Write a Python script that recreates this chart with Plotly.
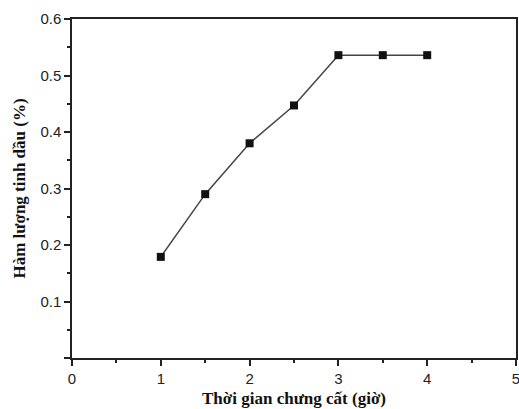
import plotly.graph_objects as go

hours = [1, 1.5, 2, 2.5, 3, 3.5, 4]
oil_content = [0.179, 0.290, 0.380, 0.447, 0.536, 0.536, 0.536]

y_tickvals = [0, 0.1, 0.2, 0.3, 0.4, 0.5, 0.6]
y_ticktext = ["", "0.1", "0.2", "0.3", "0.4", "0.5", "0.6"]
x_tickvals = [0, 1, 2, 3, 4, 5]
x_ticktext = ["0", "1", "2", "3", "4", "5"]

fig = go.Figure()
fig.add_trace(go.Scatter(
    x=hours, y=oil_content, mode="lines+markers",
    line=dict(color="#444444", width=1.5),
    marker=dict(symbol="square", size=8, color="#111111"),
    showlegend=False,
))

tick_font = dict(family="Liberation Sans, Arial, sans-serif", size=15, color="#222222")
title_font = dict(family="Liberation Serif, Times New Roman, serif", size=17, color="#111111")

fig.update_layout(
    width=519, height=409,
    margin=dict(l=72, r=3, t=19, b=51),
    paper_bgcolor="white", plot_bgcolor="white",
    xaxis=dict(
        range=[0, 5], tickvals=x_tickvals, ticktext=x_ticktext,
        showgrid=False, zeroline=False, automargin=False,
        ticklabeloverflow="allow",
        showline=True, linecolor="#222222", linewidth=1.5, mirror=True,
        ticks="outside", ticklen=6, tickwidth=1.5, tickcolor="#222222",
        minor=dict(dtick=0.5, ticks="outside", ticklen=3, tickwidth=1.5, tickcolor="#222222"),
        tickfont=tick_font,
        title=dict(text="<b>Thời gian chưng cất (giờ)</b>", font=title_font, standoff=6),
    ),
    yaxis=dict(
        range=[0, 0.6], tickvals=y_tickvals, ticktext=y_ticktext,
        showgrid=False, zeroline=False, automargin=False,
        showline=True, linecolor="#222222", linewidth=1.5, mirror=True,
        ticks="outside", ticklen=6, tickwidth=1.5, tickcolor="#222222",
        minor=dict(dtick=0.05, tick0=0, ticks="outside", ticklen=3, tickwidth=1.5, tickcolor="#222222"),
        tickfont=tick_font,
        title=dict(text="<b>Hàm lượng tinh dầu (%)</b>", font=title_font, standoff=10),
    ),
)

fig.write_html(
    "out.html",
    config={"displayModeBar": False},
    post_script="document.body.style.margin='0';document.body.style.padding='0';",
)
